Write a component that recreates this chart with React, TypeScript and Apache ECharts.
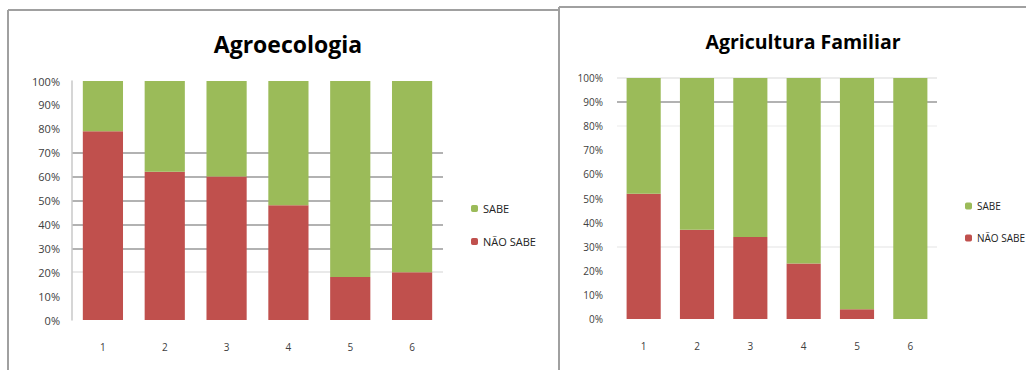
import React, { useEffect, useRef } from "react";
import * as echarts from "echarts";

const categories = ["1", "2", "3", "4", "5", "6"];
const agroNaoSabe = [79, 62, 60, 48, 18, 20];
const agroSabe = [21, 38, 40, 52, 82, 80];
const famNaoSabe = [52, 37, 34, 23, 4, 0];
const famSabe = [48, 63, 66, 77, 96, 100];
const seriesNames = ["SABE", "NÃO SABE"];
const titles = ["Agroecologia", "Agricultura Familiar"];

const GREEN = "#9BBB59";
const RED = "#C0504D";
const NONE = "rgba(0,0,0,0)";

export default function App() {
  const ref = useRef<HTMLDivElement>(null);
  useEffect(() => {
    if (!ref.current) return;
    const chart = echarts.init(ref.current, null, { renderer: "svg" });
    const font = "'Open Sans', 'Noto Sans', sans-serif";
    const axisLabel = { color: "#404040", fontSize: 9, fontFamily: font };
    const yAxisBase = {
      type: "value" as const,
      min: 0,
      max: 100,
      interval: 10,
      axisTick: { show: false },
      axisLabel: { ...axisLabel, formatter: "{value}%" },
    };
    const xAxisBase = {
      type: "category" as const,
      data: categories,
      axisLine: { show: false },
      axisTick: { show: false },
      axisLabel: { ...axisLabel, fontSize: 10, margin: 22 },
    };
    chart.setOption({
      animation: false,
      backgroundColor: "#fff",
      title: [
        {
          text: titles[0],
          left: 283,
          top: 27,
          textAlign: "center",
          textStyle: { fontSize: 23, fontWeight: "bold", color: "#000", fontFamily: font },
        },
        {
          text: titles[1],
          left: 798,
          top: 26,
          textAlign: "center",
          textStyle: { fontSize: 19.5, fontWeight: "bold", color: "#000", fontFamily: font },
        },
      ],
      legend: [
        {
          orient: "vertical",
          left: 466,
          top: 198,
          itemWidth: 7,
          itemHeight: 7,
          itemGap: 22,
          data: seriesNames,
          textStyle: { fontSize: 11, color: "#222", fontFamily: font },
        },
        {
          orient: "vertical",
          left: 960,
          top: 196,
          itemWidth: 7,
          itemHeight: 7,
          itemGap: 22,
          data: seriesNames,
          textStyle: { fontSize: 10, color: "#222", fontFamily: font },
        },
      ],
      grid: [
        { left: 72, right: 583, top: 81, bottom: 50 },
        { left: 617, right: 89, top: 78, bottom: 51 },
      ],
      xAxis: [
        { ...xAxisBase, gridIndex: 0 },
        { ...xAxisBase, gridIndex: 1 },
      ],
      yAxis: [
        {
          ...yAxisBase,
          gridIndex: 0,
          axisLine: { show: true, lineStyle: { color: "#c8c8c8", width: 1.5 } },
          axisLabel: { ...yAxisBase.axisLabel, fontSize: 11, margin: 12 },
          splitLine: {
            show: true,
            lineStyle: {
              width: 1.5,
              color: [NONE, NONE, "#e2e2e2", "#999", "#999", "#999", "#999", "#999", NONE, NONE, NONE],
            },
          },
        },
        {
          ...yAxisBase,
          gridIndex: 1,
          axisLine: { show: false },
          axisLabel: { ...yAxisBase.axisLabel, fontSize: 10, margin: 14 },
          splitLine: {
            show: true,
            lineStyle: {
              width: 1.5,
              color: [NONE, NONE, NONE, "#ececec", NONE, NONE, NONE, NONE, "#f2f2f2", "#999", "#e6e6e6"],
            },
          },
        },
      ],
      series: [
        {
          name: seriesNames[1],
          type: "bar",
          stack: "a",
          xAxisIndex: 0,
          yAxisIndex: 0,
          data: agroNaoSabe,
          barCategoryGap: "35%",
          itemStyle: { color: RED },
        },
        {
          name: seriesNames[0],
          type: "bar",
          stack: "a",
          xAxisIndex: 0,
          yAxisIndex: 0,
          data: agroSabe,
          barCategoryGap: "35%",
          itemStyle: { color: GREEN },
        },
        {
          name: seriesNames[1],
          type: "bar",
          stack: "b",
          xAxisIndex: 1,
          yAxisIndex: 1,
          data: famNaoSabe,
          barCategoryGap: "36%",
          itemStyle: { color: RED },
        },
        {
          name: seriesNames[0],
          type: "bar",
          stack: "b",
          xAxisIndex: 1,
          yAxisIndex: 1,
          data: famSabe,
          barCategoryGap: "36%",
          itemStyle: { color: GREEN },
        },
      ],
      graphic: [
        { type: "line", shape: { x1: 8, y1: 10, x2: 8, y2: 370 }, style: { stroke: "#a0a0a0", lineWidth: 2 } },
        { type: "line", shape: { x1: 8, y1: 10, x2: 558, y2: 10 }, style: { stroke: "#a0a0a0", lineWidth: 2 } },
        { type: "rect", shape: { x: 558, y: 7, width: 468, height: 363 }, style: { fill: "#fff" }, z: -1 },
        { type: "line", shape: { x1: 559, y1: 7, x2: 559, y2: 370 }, style: { stroke: "#a0a0a0", lineWidth: 2 } },
        { type: "line", shape: { x1: 559, y1: 7, x2: 1026, y2: 7 }, style: { stroke: "#a0a0a0", lineWidth: 2 } },
      ],
    });
    return () => chart.dispose();
  }, []);
  return (
    <div
      ref={ref}
      style={{ position: "absolute", left: 0, top: 0, width: 1026, height: 370 }}
    />
  );
}
